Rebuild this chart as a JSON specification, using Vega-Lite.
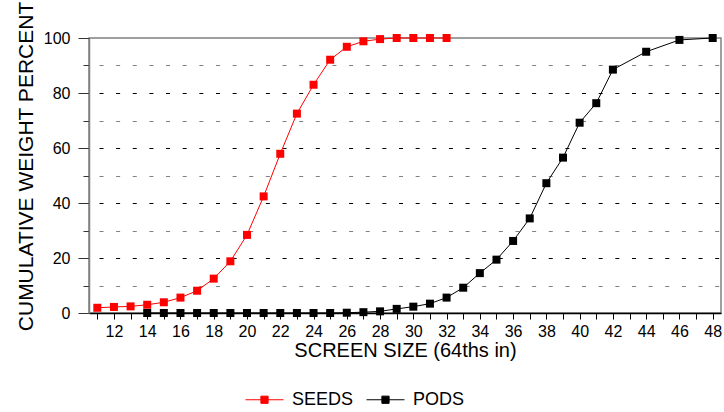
{
  "$schema": "https://vega.github.io/schema/vega-lite/v6.json",
  "width": 632,
  "height": 275,
  "autosize": {"type": "none"},
  "padding": {"left": 89, "top": 38, "right": 3, "bottom": 99},
  "background": "white",
  "config": {
    "font": "Liberation Sans",
    "view": {"stroke": "#808080", "strokeWidth": 1.5},
    "axis": {"labelFont": "Liberation Sans", "titleFont": "Liberation Sans", "titleFontWeight": "normal", "labelColor": "black", "titleColor": "black"}
  },
  "data": {
    "values": [
      {"series": "SEEDS", "size": 11, "pct": 1.9},
      {"series": "SEEDS", "size": 12, "pct": 2.2},
      {"series": "SEEDS", "size": 13, "pct": 2.4},
      {"series": "SEEDS", "size": 14, "pct": 3.0},
      {"series": "SEEDS", "size": 15, "pct": 3.9},
      {"series": "SEEDS", "size": 16, "pct": 5.6},
      {"series": "SEEDS", "size": 17, "pct": 8.1},
      {"series": "SEEDS", "size": 18, "pct": 12.5},
      {"series": "SEEDS", "size": 19, "pct": 18.8},
      {"series": "SEEDS", "size": 20, "pct": 28.4},
      {"series": "SEEDS", "size": 21, "pct": 42.4},
      {"series": "SEEDS", "size": 22, "pct": 57.9},
      {"series": "SEEDS", "size": 23, "pct": 72.5},
      {"series": "SEEDS", "size": 24, "pct": 83.0},
      {"series": "SEEDS", "size": 25, "pct": 92.1},
      {"series": "SEEDS", "size": 26, "pct": 96.8},
      {"series": "SEEDS", "size": 27, "pct": 98.8},
      {"series": "SEEDS", "size": 28, "pct": 99.6},
      {"series": "SEEDS", "size": 29, "pct": 100},
      {"series": "SEEDS", "size": 30, "pct": 100},
      {"series": "SEEDS", "size": 31, "pct": 100},
      {"series": "SEEDS", "size": 32, "pct": 100},
      {"series": "PODS", "size": 14, "pct": 0},
      {"series": "PODS", "size": 15, "pct": 0},
      {"series": "PODS", "size": 16, "pct": 0},
      {"series": "PODS", "size": 17, "pct": 0},
      {"series": "PODS", "size": 18, "pct": 0},
      {"series": "PODS", "size": 19, "pct": 0},
      {"series": "PODS", "size": 20, "pct": 0},
      {"series": "PODS", "size": 21, "pct": 0},
      {"series": "PODS", "size": 22, "pct": 0},
      {"series": "PODS", "size": 23, "pct": 0},
      {"series": "PODS", "size": 24, "pct": 0},
      {"series": "PODS", "size": 25, "pct": 0},
      {"series": "PODS", "size": 26, "pct": 0.1},
      {"series": "PODS", "size": 27, "pct": 0.3},
      {"series": "PODS", "size": 28, "pct": 0.6},
      {"series": "PODS", "size": 29, "pct": 1.5},
      {"series": "PODS", "size": 30, "pct": 2.3},
      {"series": "PODS", "size": 31, "pct": 3.4},
      {"series": "PODS", "size": 32, "pct": 5.6},
      {"series": "PODS", "size": 33, "pct": 9.2},
      {"series": "PODS", "size": 34, "pct": 14.5},
      {"series": "PODS", "size": 35, "pct": 19.4},
      {"series": "PODS", "size": 36, "pct": 26.2},
      {"series": "PODS", "size": 37, "pct": 34.4},
      {"series": "PODS", "size": 38, "pct": 47.2},
      {"series": "PODS", "size": 39, "pct": 56.5},
      {"series": "PODS", "size": 40, "pct": 69.2},
      {"series": "PODS", "size": 41, "pct": 76.3},
      {"series": "PODS", "size": 42, "pct": 88.5},
      {"series": "PODS", "size": 44, "pct": 95.0},
      {"series": "PODS", "size": 46, "pct": 99.3},
      {"series": "PODS", "size": 48, "pct": 100}
    ]
  },
  "mark": {
    "type": "line",
    "strokeWidth": 1,
    "clip": false,
    "point": {"shape": "square", "size": 64, "filled": true, "opacity": 1}
  },
  "encoding": {
    "x": {
      "field": "size",
      "type": "quantitative",
      "scale": {"domain": [10.5, 48.5], "nice": false, "zero": false},
      "axis": {
        "title": "SCREEN SIZE (64ths in)",
        "titleFontSize": 20,
        "titlePadding": 1,
        "values": [11,12,13,14,15,16,17,18,19,20,21,22,23,24,25,26,27,28,29,30,31,32,33,34,35,36,37,38,39,40,41,42,43,44,45,46,47,48],
        "labelExpr": "datum.value % 2 == 0 ? datum.label : ''",
        "labelOverlap": false,
        "labelFlush": false,
        "labelFontSize": 16,
        "labelPadding": 4,
        "tickSize": 6,
        "tickColor": "black",
        "domainColor": "black",
        "domainWidth": 1.5,
        "grid": false
      }
    },
    "y": {
      "field": "pct",
      "type": "quantitative",
      "scale": {"domain": [0, 100], "nice": false},
      "axis": {
        "title": "CUMULATIVE WEIGHT PERCENT",
        "titleFontSize": 21,
        "titlePadding": 7,
        "titleY": 128,
        "values": [0,10,20,30,40,50,60,70,80,90,100],
        "labelExpr": "datum.value % 20 == 0 ? datum.label : ''",
        "labelOverlap": false,
        "labelFlush": false,
        "labelFontSize": 16,
        "labelPadding": 8,
        "tickSize": {"condition": {"test": "datum.value % 20 == 0", "value": 11}, "value": 6},
        "tickColor": "#333333",
        "domainColor": "#808080",
        "domainWidth": 1.5,
        "grid": true,
        "gridColor": {"condition": {"test": "datum.value % 20 == 0", "value": "black"}, "value": "#808080"},
        "gridOpacity": {"condition": {"test": "datum.value == 0 || datum.value == 100", "value": 0}, "value": 1},
        "gridDash": [4, 12.64],
        "gridDashOffset": 6.64,
        "gridWidth": 1
      }
    },
    "color": {
      "field": "series",
      "type": "nominal",
      "scale": {"domain": ["SEEDS", "PODS"], "range": ["#ff0000", "#000000"]},
      "legend": {
        "title": null,
        "orient": "none",
        "direction": "horizontal",
        "legendX": 156,
        "legendY": 342,
        "symbolType": "M-1,0H1M-0.19,-0.19H0.19V0.19H-0.19Z",
        "symbolSize": 1444,
        "symbolStrokeWidth": 1,
        "labelFontSize": 18,
        "labelColor": "black",
        "labelOffset": 8,
        "columnPadding": 10
      }
    }
  }
}
